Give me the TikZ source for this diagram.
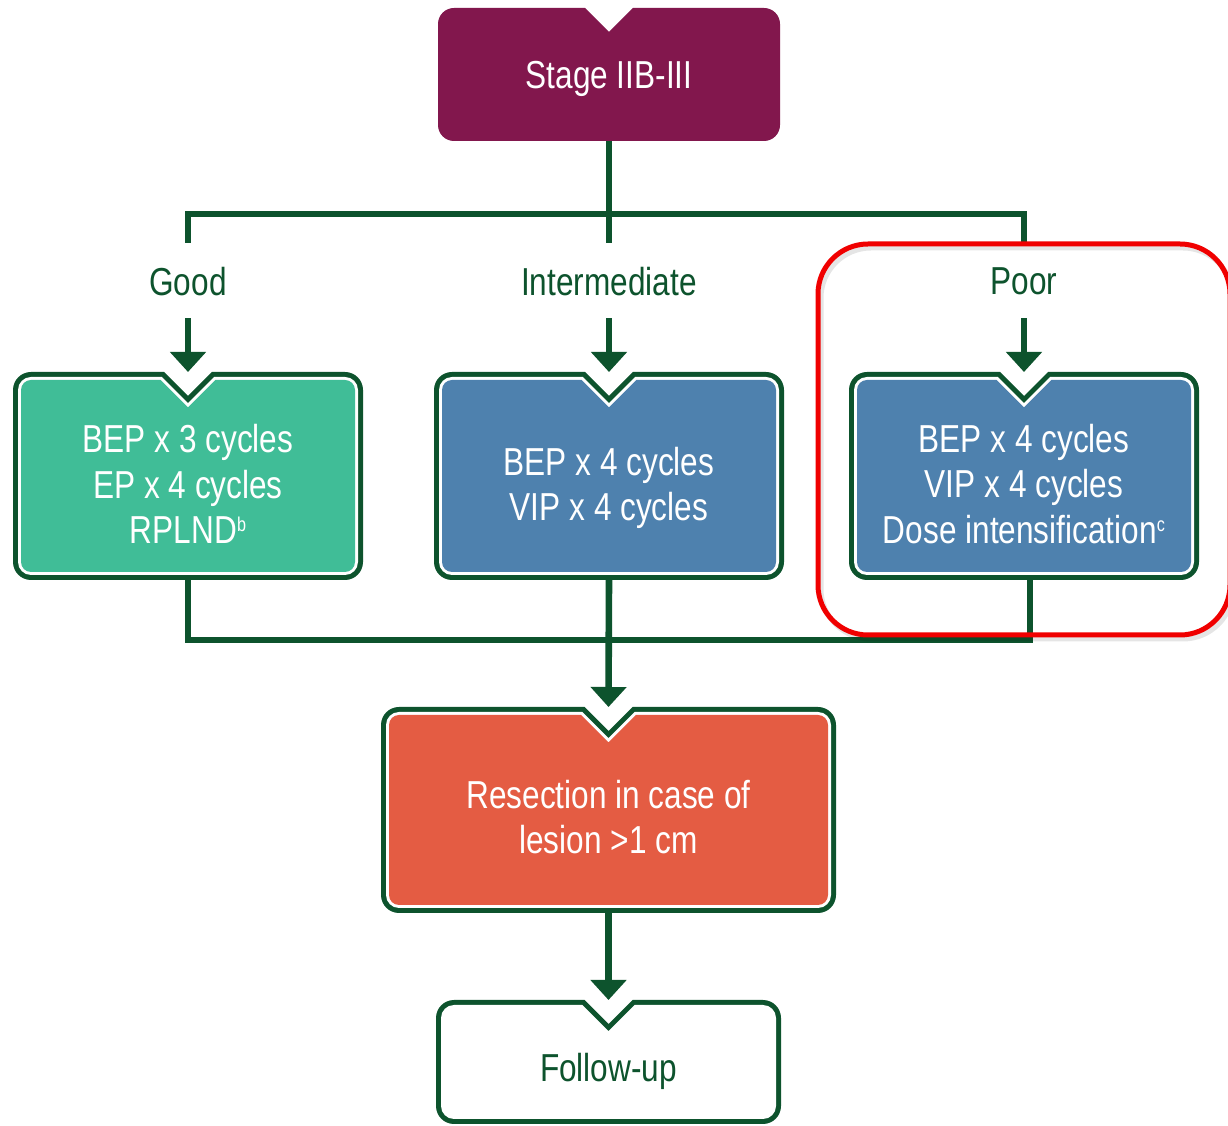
\documentclass[tikz,border=0pt]{standalone}
\usepackage{fontspec}
\setmainfont{Liberation Sans}[FakeStretch=0.81]
\usetikzlibrary{arrows.meta,calc}

\definecolor{lineg}{RGB}{13,83,45}
\definecolor{stagefill}{RGB}{130,23,77}
\definecolor{goodfill}{RGB}{64,189,151}
\definecolor{riskfill}{RGB}{78,129,174}
\definecolor{resectfill}{RGB}{228,92,67}
\definecolor{hilite}{RGB}{240,0,0}

% small raised footnote mark
\newcommand\fnmark[1]{\raisebox{6.2pt}{\fontsize{10}{10}\selectfont #1}}

% Rounded box with a V notch in the middle of its top edge.
% #1 left, #2 bottom, #3 right, #4 top, #5 corner radius,
% #6 notch depth, #7 inset, #8 fill colour
\newcommand\notchshape[8]{%
  \pgfmathsetmacro\nsL{#1+#7}%
  \pgfmathsetmacro\nsB{#2+#7}%
  \pgfmathsetmacro\nsR{#3-#7}%
  \pgfmathsetmacro\nsT{#4-#7}%
  \pgfmathsetmacro\nsRad{#5-#7}%
  \pgfmathsetmacro\nsD{#6+0.414*#7}%
  \pgfmathsetmacro\nsC{(#1+#3)/2}%
  \fill[#8] (\nsL,\nsT-\nsRad) arc[start angle=180,end angle=90,radius=\nsRad]
    -- (\nsC-\nsD,\nsT) -- (\nsC,\nsT-\nsD) -- (\nsC+\nsD,\nsT)
    -- (\nsR-\nsRad,\nsT) arc[start angle=90,end angle=0,radius=\nsRad]
    -- (\nsR,\nsB+\nsRad) arc[start angle=0,end angle=-90,radius=\nsRad]
    -- (\nsL+\nsRad,\nsB) arc[start angle=270,end angle=180,radius=\nsRad]
    -- cycle;
}
% Notched box with dark green rim and thin white inner line
\newcommand\rimbox[5]{%
  \notchshape{#1}{#2}{#3}{#4}{18}{24}{0}{lineg}%
  \notchshape{#1}{#2}{#3}{#4}{18}{24}{5}{white}%
  \notchshape{#1}{#2}{#3}{#4}{18}{24}{8}{#5}%
}

\begin{document}
\begin{tikzpicture}[x=0.5pt,y=0.5pt,
  conn/.style={draw=lineg, line width=3.3pt},
  flow/.style={conn, -{Triangle[width=17.5pt,length=10pt]}},
  area/.style 2 args={inner sep=0pt, outer sep=0pt, minimum width=#1, minimum height=#2},
  txt/.style={font=\fontsize{19.5}{22.75}\selectfont, align=center, inner sep=0pt, outer sep=0pt},
  lbl/.style={txt, text=lineg, text depth=0pt, minimum height=37.5pt}
]
\fill[white] (0,0) rectangle (1228,1126);
\useasboundingbox (0,0) rectangle (1228,1126);

% stage box
\notchshape{438}{985}{780}{1118}{16}{24}{0}{stagefill}
\node[txt, text=white, text depth=0pt, minimum width=171pt, minimum height=66.5pt] (stage) at (609,1051.5) {Stage IIB-III};

% risk group labels
\node[lbl] (goodlbl) at (188,845) {Good};
\node[lbl] (intlbl) at (609,845) {Intermediate};
\node[lbl] (poorlbl) at (1024,845) {Poor};

\coordinate (split) at (609,912);
\draw[conn] (stage.south) -- (intlbl.north);
\draw[conn] (split) -| (goodlbl.north);
\draw[conn] (split) -| (poorlbl.north);

% treatment boxes
\rimbox{13}{546}{363}{754}{goodfill}
\node[area={175pt}{104pt}] (good) at (188,650) {};
\node[txt, text=white] (goodtxt) at (188,642) {BEP x 3 cycles\\EP x 4 cycles\\RPLND\fnmark{b}};

\rimbox{434}{546}{784}{754}{riskfill}
\node[area={175pt}{104pt}] (intbox) at (609,650) {};
\node[txt, text=white] (inttxt) at (609,638) {BEP x 4 cycles\\VIP x 4 cycles};

\rimbox{849}{546}{1199}{754}{riskfill}
\node[area={175pt}{104pt}] (poor) at (1024,650) {};
\node[txt, text=white] (poortxt) at (1024,642) {BEP x 4 cycles\\VIP x 4 cycles\\Dose intensification\fnmark{c}};

\draw[flow] (goodlbl.south) -- (goodlbl.south |- good.north);
\draw[flow] (intlbl.south) -- (intlbl.south |- intbox.north);
\draw[flow] (poorlbl.south) -- (poorlbl.south |- poor.north);

% resection box
\rimbox{381}{213}{836}{419}{resectfill}
\node[area={227.5pt}{103pt}] (resect) at (608.5,316) {};
\node[txt, text=white] (resecttxt) at (608.5,309) {Resection in case of\\lesion >1 cm};

% follow-up box
\rimbox{436}{2}{781}{126}{white}
\node[area={172.5pt}{62pt}] (follow) at (608.5,64) {};
\node[txt, text=lineg, text depth=0pt] (followtxt) at (608.5,59) {Follow-up};

% merging connectors
\coordinate (mergeR) at (1030,486);
\draw[conn] (good.south) |- (mergeR) -- ($(poor.south)+(6,0)$);
\draw[flow] (intbox.south) -- (resect.north);
\draw[flow] (resect.south) -- (follow.north);

% highlight frame around the poor-risk branch
\draw[black, opacity=0.10, line width=2.5pt, rounded corners=25pt] (821,487) rectangle (1233,878);
\draw[hilite, line width=2.5pt, rounded corners=25pt] (818,491) rectangle (1230,882);
\end{tikzpicture}
\end{document}
